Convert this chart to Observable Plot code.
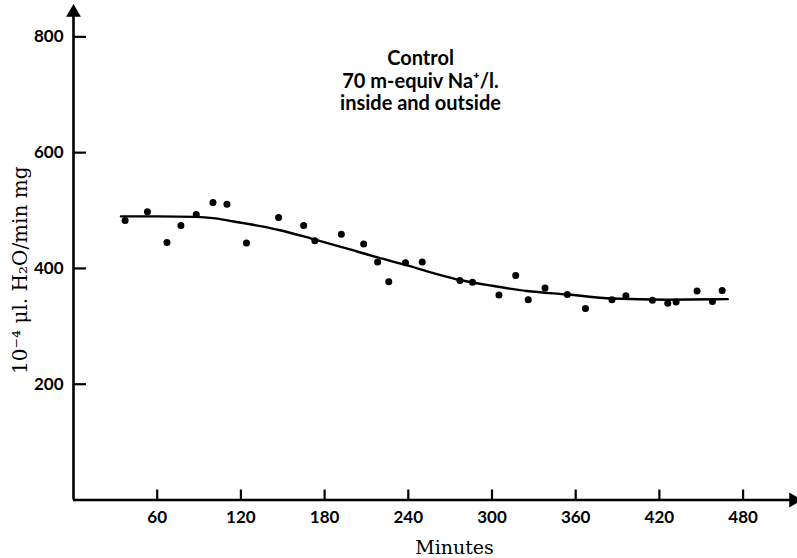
<!DOCTYPE html>
<html>
<head>
<meta charset="utf-8">
<script src="https://cdn.jsdelivr.net/npm/d3@7"></script>
<script src="https://cdn.jsdelivr.net/npm/@observablehq/plot@0.6"></script>
<style>
  html, body { margin: 0; padding: 0; background: #fff; }
  #chart svg { display: block; }
</style>
</head>
<body>
<div id="chart"></div>
<script>
// Observed points (minutes, 10^-4 µl H2O/min mg)
const minutes = [37, 53, 67, 77, 88, 100, 110, 124, 147, 165, 173, 192, 208, 218, 226, 238, 250, 277, 286, 305, 317, 326, 338, 354, 367, 386, 396, 415, 426, 432, 447, 458, 465];
const flux    = [483, 498, 445, 474, 493, 514, 511, 444, 488, 474, 448, 459, 442, 411, 377, 410, 411, 379, 376, 354, 388, 346, 366, 355, 331, 346, 353, 345, 340, 342, 361, 343, 362];

// Fitted curve drawn through the points
const curveMinutes = [34, 60, 88, 100, 115, 134, 148, 170, 195, 218, 238, 258, 277, 300, 325, 354, 386, 425, 469];
const curveFlux    = [490, 490, 489, 487, 481, 473, 466, 452, 435, 419, 406, 392, 380, 370, 361, 355, 348, 346, 347];

const xTicks = [60, 120, 180, 240, 300, 360, 420, 480];
const yTicks = [200, 400, 600, 800];
const xDomain = [0, 519];
const yDomain = [0, 849];

const titleLines = ["Control", "70 m-equiv Na\u207A/l.", "inside and outside"];
const xLabel = "Minutes";
const yLabel = "10\u207B\u2074 \u03BCl. H\u2082O/min mg";

const points = minutes.map((m, i) => ({m, v: flux[i]}));
const curve = curveMinutes.map((m, i) => ({m, v: curveFlux[i]}));

const sans = "Lato, 'Open Sans', sans-serif";
const serif = "'DejaVu Serif', 'Liberation Serif', serif";

const chart = Plot.plot({
  width: 797,
  height: 558,
  marginLeft: 73,
  marginRight: 0,
  marginTop: 8,
  marginBottom: 58.5,
  style: {background: "#fff", color: "#000"},
  x: {domain: xDomain},
  y: {domain: yDomain},
  marks: [
    Plot.ruleX([xDomain[0]], {stroke: "#000", strokeWidth: 2.6}),
    Plot.ruleY([yDomain[0]], {stroke: "#000", strokeWidth: 2.6}),
    Plot.dot([{m: xDomain[0], v: yDomain[1]}], {x: "m", y: "v", symbol: "triangle", r: 5.5, fill: "#000", stroke: null, dy: 4}),
    Plot.dot([{m: xDomain[1], v: yDomain[0]}], {x: "m", y: "v", symbol: "triangle", r: 5.5, fill: "#000", stroke: null, rotate: 90, dx: -4}),
    Plot.axisX({ticks: xTicks, tickSize: -10, tickPadding: 21, strokeWidth: 2.2, fontSize: 17, fontWeight: "bold", fontFamily: sans, label: null}),
    Plot.axisY({ticks: yTicks, tickSize: -13, tickPadding: 23, strokeWidth: 2.2, fontSize: 17, fontWeight: "bold", fontFamily: sans, label: null}),
    Plot.line(curve, {x: "m", y: "v", curve: "monotone-x", stroke: "#000", strokeWidth: 2.4}),
    Plot.dot(points, {x: "m", y: "v", r: 3.5, fill: "#000", stroke: null}),
    Plot.text([titleLines.join("\n")], {frameAnchor: "top", lineAnchor: "top", dx: -15, dy: 41, fontSize: 20, fontWeight: "bold", fontFamily: sans, lineHeight: 1.12}),
    Plot.text([xLabel], {frameAnchor: "bottom", lineAnchor: "middle", dx: 19, dy: 48, fontSize: 19, fontFamily: serif}),
    Plot.text([yLabel], {frameAnchor: "left", textAnchor: "middle", lineAnchor: "middle", rotate: -90, dx: -53, dy: 16, fontSize: 20, fontFamily: serif})
  ]
});

document.getElementById("chart").appendChild(chart);
</script>
</body>
</html>
